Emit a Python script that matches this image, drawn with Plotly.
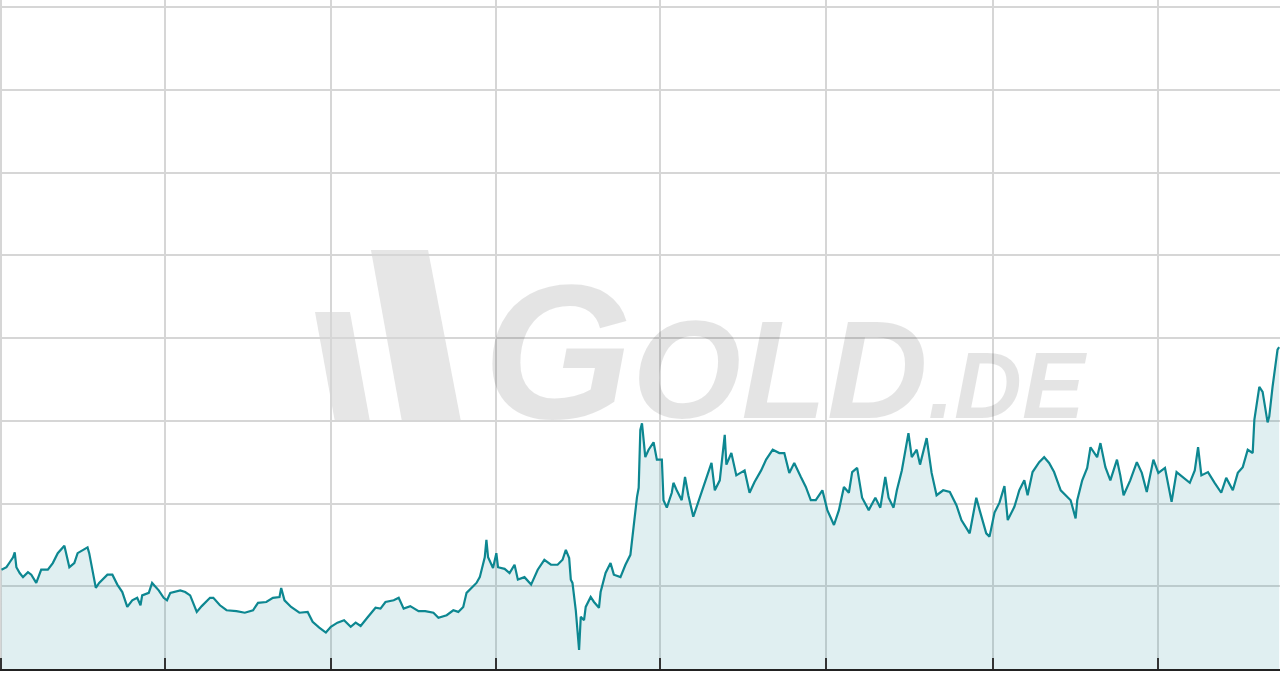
import plotly.graph_objects as go

# trading-day index (gridline every ~100 days) and price
days = [
    0, 3, 5, 7, 8, 9, 11, 13, 16, 18, 21, 24, 28, 31, 34, 38, 41, 44, 46, 52,
    53, 55, 57, 59, 64, 67, 70, 73, 76, 79, 82, 84, 85, 89, 91, 95, 98, 100, 102, 108,
    111, 114, 118, 121, 126, 128, 132, 136, 142, 147, 152, 155, 160, 164, 168, 169, 171, 175, 180, 185,
    188, 192, 196, 199, 203, 207, 211, 214, 217, 221, 226, 229, 232, 237, 240, 243, 247, 252, 256, 261,
    264, 269, 273, 276, 279, 281, 284, 287, 289, 291, 292, 293, 294, 297, 299, 300, 304, 307, 310, 312,
    316, 320, 324, 328, 332, 336, 339, 341, 343, 344, 345, 347, 348, 349, 350, 352, 353, 356, 358, 361,
    362, 365, 368, 370, 374, 377, 380, 382, 384, 385, 386, 387, 389, 391, 394, 396, 399, 400, 402, 405,
    406, 408, 411, 413, 415, 418, 421, 424, 429, 431, 434, 437, 438, 441, 444, 449, 452, 455, 459, 462,
    466, 470, 473, 476, 479, 483, 486, 489, 492, 496, 499, 503, 506, 509, 512, 514, 517, 520, 524, 528,
    531, 534, 536, 539, 541, 544, 548, 550, 553, 555, 559, 562, 565, 569, 573, 577, 580, 585, 589, 591,
    595, 597, 600, 603, 606, 608, 612, 615, 618, 620, 623, 627, 630, 633, 636, 640, 643, 646, 649, 650,
    653, 656, 658, 662, 664, 667, 670, 674, 676, 678, 682, 686, 689, 692, 696, 699, 703, 707, 710, 714,
    718, 721, 723, 725, 729, 733, 737, 740, 744, 747, 750, 753, 756, 757, 760, 762, 765, 766, 768, 771,
    772,
]
price = [
    1120, 1123, 1129, 1135, 1141, 1123, 1116, 1111, 1117, 1114, 1104, 1120, 1120, 1128, 1140, 1149, 1123, 1128, 1140, 1147,
    1140, 1120, 1098, 1104, 1114, 1114, 1102, 1093, 1075, 1083, 1086, 1077, 1089, 1092, 1104, 1095, 1086, 1083, 1092, 1095,
    1093, 1089, 1069, 1076, 1086, 1086, 1077, 1071, 1070, 1068, 1071, 1080, 1081, 1086, 1087, 1098, 1083, 1075, 1068, 1069,
    1057, 1050, 1044, 1051, 1056, 1059, 1051, 1056, 1052, 1062, 1074, 1073, 1081, 1083, 1086, 1073, 1076, 1070, 1070, 1068,
    1062, 1065, 1071, 1069, 1075, 1092, 1098, 1104, 1111, 1126, 1135, 1156, 1135, 1122, 1140, 1123, 1121, 1116, 1126, 1108,
    1111, 1102, 1120, 1132, 1126, 1126, 1132, 1144, 1134, 1108, 1104, 1071, 1047, 1023, 1063, 1059, 1075, 1087, 1081, 1074,
    1093, 1116, 1128, 1114, 1111, 1126, 1138, 1176, 1208, 1219, 1289, 1297, 1256, 1265, 1274, 1253, 1253, 1204, 1195, 1213,
    1225, 1216, 1204, 1232, 1210, 1184, 1202, 1220, 1249, 1216, 1228, 1283, 1247, 1261, 1234, 1240, 1213, 1226, 1240, 1253,
    1265, 1261, 1261, 1237, 1249, 1232, 1220, 1204, 1204, 1216, 1192, 1174, 1192, 1220, 1213, 1238, 1243, 1207, 1192, 1207,
    1195, 1232, 1207, 1195, 1216, 1240, 1285, 1256, 1265, 1247, 1279, 1237, 1210, 1216, 1214, 1198, 1180, 1164, 1207, 1192,
    1164, 1160, 1189, 1201, 1221, 1180, 1196, 1216, 1228, 1210, 1238, 1250, 1256, 1249, 1238, 1216, 1210, 1204, 1182, 1204,
    1228, 1243, 1268, 1256, 1273, 1244, 1228, 1253, 1234, 1210, 1228, 1250, 1237, 1214, 1253, 1237, 1243, 1202, 1238, 1232,
    1225, 1240, 1268, 1234, 1238, 1225, 1213, 1231, 1216, 1237, 1244, 1265, 1261, 1301, 1341, 1335, 1298, 1305, 1341, 1386,
    1389,
]
grid_days = [0, 99, 199, 299, 398, 498, 599, 699]

LINE = "#0d8791"
WM = "rgba(0,0,0,0.105)"

fig = go.Figure()
fig.add_trace(go.Scatter(x=days, y=price, mode="lines", fill="tozeroy", fillcolor="rgba(13,135,145,0.13)", line=dict(color=LINE, width=2.2), hoverinfo="x+y", showlegend=False))

# GOLD.DE watermark: two slanted bars + lettering
def px_path(pts):
    return "M " + " L ".join(f"{x / 1280:.4f},{(669 - y) / 669:.4f}" for x, y in pts) + " Z"

fig.add_shape(type="path", xref="paper", yref="paper", layer="below", line_width=0, fillcolor="#e6e6e6", path=px_path([(315, 312), (350, 312), (370, 422), (335, 422)]))
fig.add_shape(type="path", xref="paper", yref="paper", layer="below", line_width=0, fillcolor="#e6e6e6", path=px_path([(371, 250), (428, 250), (461, 422), (402, 422)]))

wm_text = '<span style="font-size:192px">G</span>OLD<span style="font-size:94px">.DE</span>'
fig.add_annotation(text=wm_text, xref="paper", yref="paper", x=481 / 1280, y=(669 - 351) / 669, xanchor="left", yanchor="middle", showarrow=False, font=dict(family="Liberation Sans", size=140, color=WM, weight="bold", style="italic"))

fig.update_layout(width=1280, height=675, margin=dict(l=0, r=0, t=0, b=6), plot_bgcolor="white", paper_bgcolor="white", showlegend=False)
fig.update_xaxes(range=[-0.9, 772.5], tickvals=grid_days, showticklabels=False, ticks="inside", ticklen=11, tickwidth=2, tickcolor="#333333", showgrid=True, gridcolor="#d6d6d6", gridwidth=2, showline=True, linecolor="#222222", linewidth=2, zeroline=False)
fig.update_yaxes(range=[1000, 1808.5], dtick=100, tick0=1000, showticklabels=False, ticks="", showgrid=True, gridcolor="#d6d6d6", gridwidth=2, showline=False, zeroline=False)

fig.write_html("out.html", config={"displayModeBar": False}, post_script="document.body.style.margin='0';document.documentElement.style.overflow='hidden';")
